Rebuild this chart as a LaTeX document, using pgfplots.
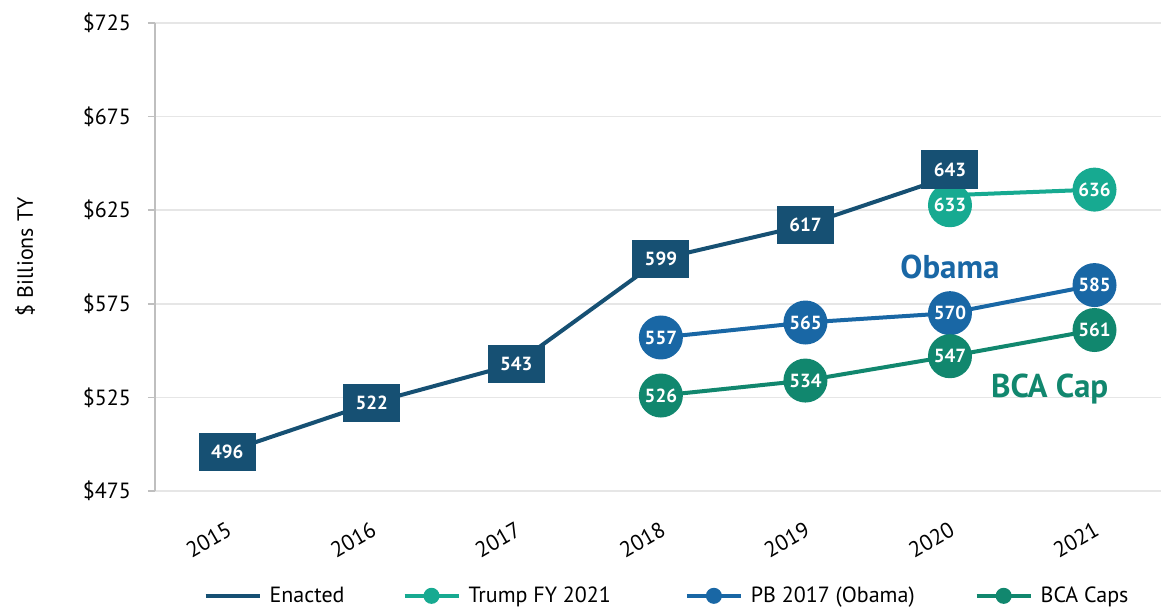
\documentclass[border=0pt]{standalone}
\usepackage{fontspec}
\setmainfont{PT Sans}
\usepackage{pgfplots}
\pgfplotsset{compat=1.18}
\usetikzlibrary{calc}
\definecolor{cEnacted}{HTML}{165073}
\definecolor{cTrump}{HTML}{17AA91}
\definecolor{cObama}{HTML}{1967A5}
\definecolor{cBCA}{HTML}{11876E}
\definecolor{cGrid}{HTML}{E6E6E6}
\definecolor{cAxis}{HTML}{BFBFBF}
\begin{document}
\begin{tikzpicture}
\begin{axis}[
  name=ax,
  scale only axis,
  width=503pt, height=234pt,
  xmin=-0.5, xmax=6.46,
  ymin=475, ymax=725,
  clip=false,
  /pgf/number format/assume math mode=true,
  xtick={0,1,2,3,4,5,6},
  xticklabels={2015,2016,2017,2018,2019,2020,2021},
  ytick={475,525,575,625,675,725},
  yticklabels={\$475,\$525,\$575,\$625,\$675,\$725},
  ymajorgrids,
  grid style={cGrid, line width=0.8pt},
  axis x line*=bottom,
  x axis line style={draw=none},
  axis y line*=left,
  y axis line style={cAxis, line width=0.8pt, -},
  ytick style={cAxis, line width=0.8pt},
  tick align=outside,
  major tick length=3.5pt,
  xtick style={draw=none},
  tick label style={font=\fontsize{11}{13}\selectfont},
  yticklabel style={xshift=-5pt},
  xticklabel style={rotate=30, anchor=north east, yshift=-6pt, xshift=-3pt},
  ylabel={\$ Billions TY},
  ylabel style={at={(axis description cs:-0.129,0.5)}, anchor=center, font=\fontsize{11}{13}\selectfont},
  legend style={at={(0.510,-0.224)}, anchor=center, draw=none, fill=none,
    legend columns=4, font=\fontsize{11}{13}\selectfont,
    /tikz/column 2/.style={column sep=27pt},
    /tikz/column 4/.style={column sep=35pt},
    /tikz/column 6/.style={column sep=28pt},
    /tikz/every odd column/.append style={column sep=2pt}},
  legend image code/.code={\draw[mark repeat=2,mark phase=2] plot coordinates {(0pt,0pt)(13.5pt,0pt)(27pt,0pt)};},
  nodes near coords,
  point meta=y,
  nodes near coords align={center},
  visualization depends on={rawy \as \rawy},
]
\addplot[cTrump, line width=2pt, mark=*, mark size=3pt, forget plot,
  every node near coord/.style={anchor=center, circle, fill=cTrump, text=white,
    font=\fontsize{9.5}{11}\selectfont\bfseries, minimum size=22pt, inner sep=0pt,
    yshift={ifthenelse(\rawy<634,-5,0)}}]
  coordinates {(5,633) (6,636)};
\addplot[cEnacted, line width=2pt, mark=none,
  every node near coord/.style={anchor=center, rectangle, fill=cEnacted, text=white,
    font=\fontsize{9.5}{11}\selectfont\bfseries, minimum width=28.5pt, minimum height=19pt, inner sep=0pt,
    yshift={ifthenelse(\rawy>640,3.5,0)}}]
  coordinates {(0,496) (1,522) (2,543) (3,599) (4,617) (5,643)};
\addlegendentry{Enacted}
\addlegendimage{cTrump, line width=2pt, mark=*, mark size=3pt}
\addlegendentry{Trump FY 2021}
\addplot[cObama, line width=2pt, mark=*, mark size=3pt,
  every node near coord/.style={anchor=center, circle, fill=cObama, text=white,
    font=\fontsize{9.5}{11}\selectfont\bfseries, minimum size=22pt, inner sep=0pt}]
  coordinates {(3,557) (4,565) (5,570) (6,585)};
\addlegendentry{PB 2017 (Obama)}
\addplot[cBCA, line width=2pt, mark=*, mark size=3pt,
  every node near coord/.style={anchor=center, circle, fill=cBCA, text=white,
    font=\fontsize{9.5}{11}\selectfont\bfseries, minimum size=22pt, inner sep=0pt}]
  coordinates {(3,526) (4,534) (5,547) (6,561)};
\addlegendentry{BCA Caps}
\node[text=cObama, font=\fontsize{16.5}{18}\selectfont\bfseries, anchor=center] at (axis cs:5.0,594.7) {Obama};
\node[text=cBCA, font=\fontsize{16.5}{18}\selectfont\bfseries, anchor=center] at (axis cs:5.69,529.5) {BCA Cap};
\end{axis}
\pgfresetboundingbox
\path ($(ax.south west)+(-77.5pt,-59pt)$) rectangle ($(ax.north east)+(0pt,11.5pt)$);
\end{tikzpicture}
\end{document}
